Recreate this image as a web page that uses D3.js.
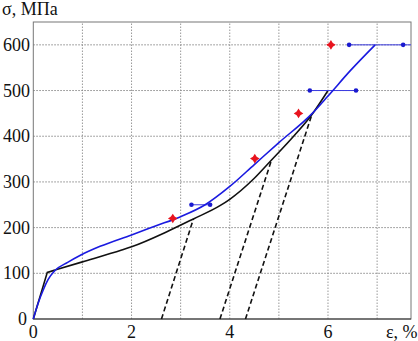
<!DOCTYPE html>
<html>
<head>
<meta charset="utf-8">
<script src="https://cdn.jsdelivr.net/npm/d3@7"></script>
<style>
  body { margin: 0; background: #fff; }
</style>
</head>
<body>
<div id="chart"></div>
<script>
// values (strain %, stress MPa)
var blueCurve = [[0,0],[0.1,35],[0.2,63],[0.3,86],[0.44,106],[0.7,124],[0.95,139],[1.36,159],[2.0,184],
  [2.5,204],[3.0,224],[3.5,250],[4.0,290],[4.5,338],[5.0,386],[5.67,449],[6.0,488],[6.45,543],[6.96,600]]
var blackElastic = [[0,0],[0.285,102],[0.44,107]]
var blackCurve = [[0.44,107],[1.0,125],[1.8,151],[2.0,158],[2.72,191],[3.26,219],
  [3.8,248],[4.0,262],[4.5,308],[4.85,348],[5.3,400],[5.67,447],[6.0,500]]
var unloadLines = [
  [[2.61,0],[3.26,219]],
  [[3.80,0],[4.85,348]],
  [[4.32,0],[5.67,447]]
]
var redPoints = [[2.84,220],[4.51,351],[5.40,450],[6.06,600]]
// horizontal blue bars: stress, strain of the two dots, end of the line
var blueBars = [
  {s: 250, e1: 3.22, e2: 3.60, end: 3.60},
  {s: 500, e1: 5.63, e2: 6.57, end: 6.57},
  {s: 600, e1: 6.43, e2: 7.53, end: 7.69}
]
var xTicks = [0, 2, 4, 6]
var yTicks = [0, 100, 200, 300, 400, 500, 600]
var xGrid = [1, 2, 3, 4, 5, 6, 7]
var yGrid = [100, 200, 300, 400, 500, 600]

var W = 418, H = 341
var FONT = '"Liberation Serif", "Times New Roman", Times, serif'
var svg = d3.select('#chart').append('svg').attr('width', W).attr('height', H)

var x = d3.scaleLinear().domain([0, 7.69]).range([33.3, 411])
var y = d3.scaleLinear().domain([0, 650]).range([319, 22])

// grid
svg.selectAll('.gx').data(xGrid).enter().append('line')
  .attr('x1', d => x(d)).attr('x2', d => x(d))
  .attr('y1', y(0)).attr('y2', y(650))
  .attr('stroke', '#999').attr('stroke-width', 1).attr('stroke-dasharray', '1.5,1.5')
svg.selectAll('.gy').data(yGrid).enter().append('line')
  .attr('x1', x(0)).attr('x2', x(7.69))
  .attr('y1', d => y(d)).attr('y2', d => y(d))
  .attr('stroke', '#888').attr('stroke-width', 1).attr('stroke-dasharray', '1.5,1.5')

// frame
svg.append('rect').attr('x', x(0)).attr('y', y(650))
  .attr('width', x(7.69) - x(0)).attr('height', y(0) - y(650))
  .attr('fill', 'none').attr('stroke', '#777').attr('stroke-width', 1)
svg.append('line').attr('x1', x(0)).attr('x2', x(7.69)).attr('y1', y(0)).attr('y2', y(0))
  .attr('stroke', '#333').attr('stroke-width', 1.2)

// tick labels
svg.selectAll('.xt').data(xTicks).enter().append('text')
  .attr('x', d => x(d)).attr('y', 338).attr('text-anchor', 'middle')
  .attr('font-family', FONT).attr('font-size', 18).attr('fill', '#111').text(d => d)
svg.selectAll('.yt').data(yTicks).enter().append('text')
  .attr('x', d => d === 0 ? 27 : 30).attr('y', d => y(d) + 6).attr('text-anchor', 'end')
  .attr('font-family', FONT).attr('font-size', 18).attr('fill', '#111').text(d => d)

svg.append('text').attr('x', 2).attr('y', 15).attr('font-family', FONT)
  .attr('font-size', 18).attr('fill', '#111').text('σ, МПа')
svg.append('text').attr('x', 386).attr('y', 338).attr('font-family', FONT)
  .attr('font-size', 18).attr('fill', '#111').text('ε, %')

var line = d3.line().x(d => x(d[0])).y(d => y(d[1]))
var smooth = d3.line().x(d => x(d[0])).y(d => y(d[1])).curve(d3.curveMonotoneX)

// unloading lines
svg.selectAll('.ul').data(unloadLines).enter().append('path')
  .attr('d', line).attr('fill', 'none').attr('stroke', '#111')
  .attr('stroke-width', 1.6).attr('stroke-dasharray', '5,3')

svg.append('path').datum(blackElastic).attr('d', line)
  .attr('fill', 'none').attr('stroke', '#111').attr('stroke-width', 1.6)
svg.append('path').datum(blackCurve).attr('d', smooth)
  .attr('fill', 'none').attr('stroke', '#111').attr('stroke-width', 1.6)

// blue bars
svg.selectAll('.bb').data(blueBars).enter().append('line')
  .attr('x1', d => x(d.e1)).attr('x2', d => x(d.end))
  .attr('y1', d => y(d.s)).attr('y2', d => y(d.s))
  .attr('stroke', '#3a3ae0').attr('stroke-width', 1)
var dots = []
blueBars.forEach(function(d) { dots.push([d.e1, d.s]); dots.push([d.e2, d.s]) })
svg.selectAll('.bd').data(dots).enter().append('circle')
  .attr('cx', d => x(d[0])).attr('cy', d => y(d[1])).attr('r', 2.3)
  .attr('fill', '#1a1ad0')

svg.append('path').datum(blueCurve).attr('d', smooth)
  .attr('fill', 'none').attr('stroke', '#1a1ae0').attr('stroke-width', 1.6)

// red four-point markers
function starPath(r, k) {
  var p = []
  for (var i = 0; i < 8; i++) {
    var a = i * Math.PI / 4 - Math.PI / 2
    var rr = i % 2 === 0 ? r : r * k
    p.push([rr * Math.cos(a), rr * Math.sin(a)])
  }
  return 'M' + p.map(q => q[0].toFixed(2) + ',' + q[1].toFixed(2)).join('L') + 'Z'
}
svg.selectAll('.rp').data(redPoints).enter().append('path')
  .attr('d', starPath(4.8, 0.55))
  .attr('transform', d => 'translate(' + x(d[0]) + ',' + y(d[1]) + ')')
  .attr('fill', '#e8141e')
</script>
</body>
</html>
